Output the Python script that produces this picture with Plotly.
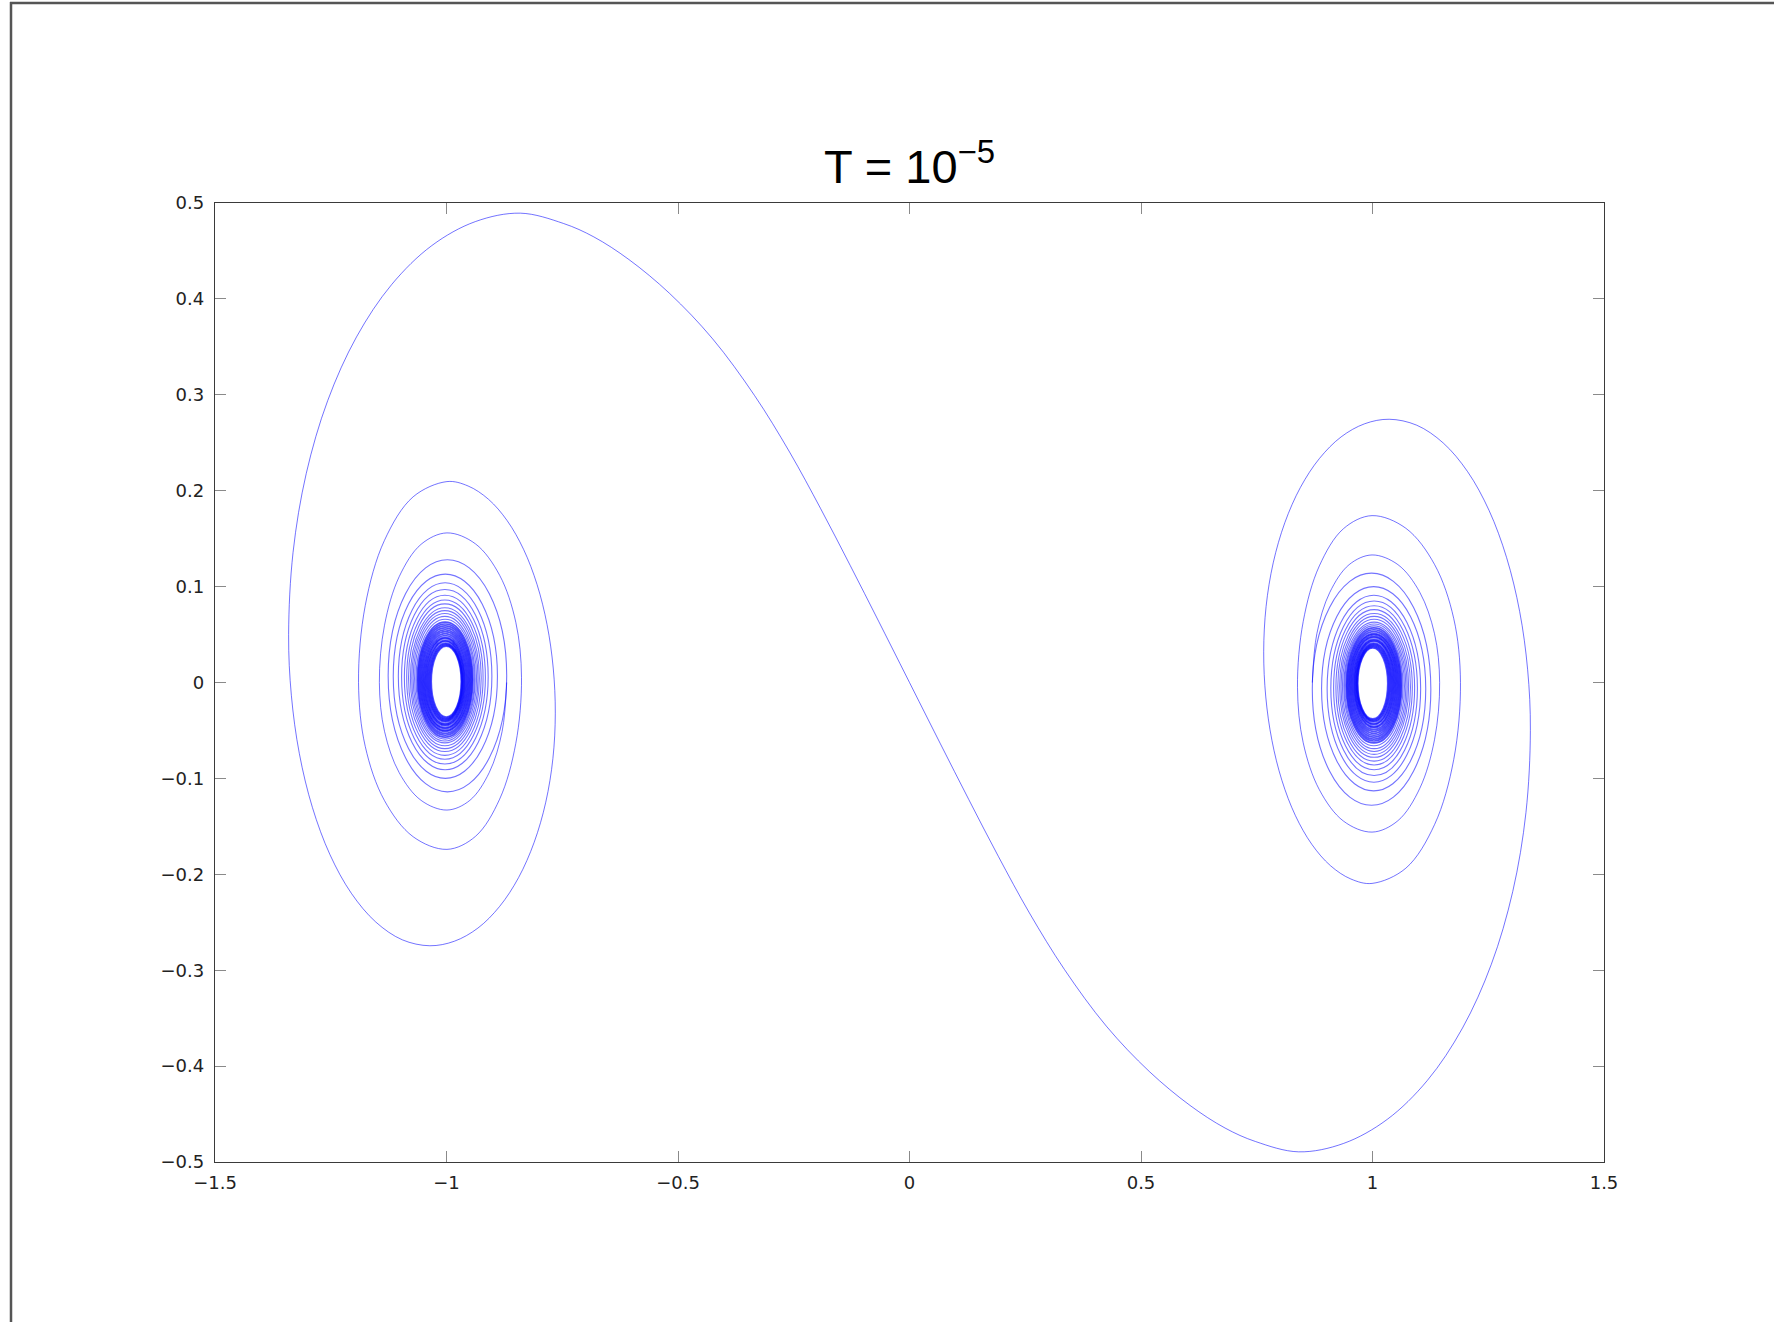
import plotly.graph_objects as go

# ---------------- data ----------------
# trajectory from the saddle (0,0) over the upper hump into the left well
traj_left_x = [0.0, -0.0660, -0.1282, -0.1918, -0.2590, -0.3347, -0.4251, -0.5179, -0.6059,
               -0.6816, -0.7476, -0.8404,
               -0.9377, -1.0317, -1.1184, -1.1943, -1.2566, -1.3029, -1.3314, -1.341,
               -1.3351, -1.3178, -1.2896, -1.2517, -1.2055, -1.1527, -1.0955, -1.036,
               -0.9831, -0.9322, -0.8854, -0.8444, -0.8107, -0.7856, -0.7702, -0.765,
               -0.7695, -0.7828, -0.8044, -0.8335, -0.8690, -0.9094, -0.9533, -0.999,
               -1.0721, -1.1341, -1.1755, -1.190,
               -1.1755, -1.1341, -1.0721, -0.999,
               -0.9373, -0.8852, -0.8503, -0.838,
               -0.8503, -0.8852, -0.9373, -0.999,
               -1.0549, -1.1022, -1.1339, -1.145,
               -1.1339, -1.1022, -1.0549, -0.999,
               -0.9496, -0.9078, -0.8798, -0.870]
traj_left_y = [0.0, 0.0632, 0.1222, 0.1812, 0.2403, 0.2993, 0.3583, 0.4056, 0.4410,
               0.4646, 0.4787, 0.4894,
               0.4806, 0.4556, 0.4150, 0.3604, 0.2939, 0.2180, 0.1357, 0.050,
               -0.0133, -0.0742, -0.1303, -0.1795, -0.2198, -0.2498, -0.2683, -0.2745,
               -0.2698, -0.2561, -0.2336, -0.2035, -0.1667, -0.1248, -0.0793, -0.032,
               0.0151, 0.0604, 0.1022, 0.1388, 0.1688, 0.1911, 0.2049, 0.2095,
               0.1936, 0.1481, 0.0802, 0.000,
               -0.0666, -0.1230, -0.1608, -0.174,
               -0.1604, -0.1216, -0.0635, 0.005,
               0.0628, 0.1118, 0.1445, 0.156,
               0.1441, 0.1103, 0.0597, 0.000,
               -0.0509, -0.0940, -0.1229, -0.133,
               -0.1229, -0.0940, -0.0509, 0.000]

# trajectory from the saddle (0,0) under the lower hump into the right well
traj_right_x = [0.0, 0.0660, 0.1282, 0.1918, 0.2590, 0.3347, 0.4251, 0.5179, 0.6059,
                0.6816, 0.7476, 0.8404,
                0.9377, 1.0317, 1.1184, 1.1943, 1.2566, 1.3029, 1.3314, 1.341,
                1.3351, 1.3178, 1.2896, 1.2517, 1.2055, 1.1527, 1.0955, 1.036,
                0.9831, 0.9322, 0.8854, 0.8444, 0.8107, 0.7856, 0.7702, 0.765,
                0.7695, 0.7828, 0.8044, 0.8335, 0.8690, 0.9094, 0.9533, 0.999,
                1.0721, 1.1341, 1.1755, 1.190,
                1.1755, 1.1341, 1.0721, 0.999,
                0.9373, 0.8852, 0.8503, 0.838,
                0.8503, 0.8852, 0.9373, 0.999,
                1.0549, 1.1022, 1.1339, 1.145,
                1.1339, 1.1022, 1.0549, 0.999,
                0.9496, 0.9078, 0.8798, 0.870]
traj_right_y = [0.0, -0.0632, -0.1222, -0.1812, -0.2403, -0.2993, -0.3583, -0.4056, -0.4410,
                -0.4646, -0.4787, -0.4894,
                -0.4806, -0.4556, -0.4150, -0.3604, -0.2939, -0.2180, -0.1357, -0.050,
                0.0133, 0.0742, 0.1303, 0.1795, 0.2198, 0.2498, 0.2683, 0.2745,
                0.2698, 0.2561, 0.2336, 0.2035, 0.1667, 0.1248, 0.0793, 0.032,
                -0.0151, -0.0604, -0.1022, -0.1388, -0.1688, -0.1911, -0.2049, -0.2095,
                -0.1936, -0.1481, -0.0802, 0.000,
                0.0666, 0.1230, 0.1608, 0.174,
                0.1604, 0.1216, 0.0635, -0.005,
                -0.0628, -0.1118, -0.1445, -0.156,
                -0.1441, -0.1103, -0.0597, 0.000,
                0.0509, 0.0940, 0.1229, 0.133,
                0.1229, 0.0940, 0.0509, 0.000]

# inner, tightly wound loops of the left well: bounding boxes
left_ring_x0 = [-1.126, -1.115, -1.104, -1.097, -1.091, -1.086, -1.082, -1.078, -1.075, -1.072,
                -1.069, -1.066, -1.063, -1.061, -1.059, -1.057, -1.055, -1.053, -1.051, -1.049,
                -1.047, -1.045, -1.043, -1.041, -1.039, -1.037, -1.035, -1.033]
left_ring_x1 = [-0.870, -0.890, -0.902, -0.910, -0.916, -0.921, -0.925, -0.929, -0.932, -0.935,
                -0.938, -0.940, -0.943, -0.945, -0.947, -0.949, -0.951, -0.953, -0.955, -0.957,
                -0.959, -0.961, -0.962, -0.964, -0.965, -0.966, -0.967, -0.968]
left_ring_y0 = [-0.114, -0.100, -0.091, -0.085, -0.080, -0.076, -0.072, -0.069, -0.066, -0.063,
                -0.061, -0.059, -0.057, -0.055, -0.053, -0.051, -0.050, -0.048, -0.047, -0.045,
                -0.044, -0.043, -0.041, -0.040, -0.039, -0.038, -0.037, -0.036]
left_ring_y1 = [0.128, 0.113, 0.104, 0.097, 0.091, 0.086, 0.082, 0.078, 0.075, 0.072,
                0.069, 0.066, 0.063, 0.061, 0.059, 0.057, 0.055, 0.053, 0.051, 0.049,
                0.047, 0.046, 0.044, 0.043, 0.041, 0.040, 0.039, 0.038]

# inner loops of the right well
right_ring_x0 = [0.870, 0.890, 0.902, 0.910, 0.916, 0.921, 0.925, 0.929, 0.932, 0.935,
                 0.938, 0.940, 0.943, 0.945, 0.947, 0.949, 0.951, 0.953, 0.955, 0.957,
                 0.959, 0.961, 0.962, 0.964, 0.965, 0.966, 0.967, 0.968]
right_ring_x1 = [1.126, 1.115, 1.104, 1.097, 1.091, 1.086, 1.082, 1.078, 1.075, 1.072,
                 1.069, 1.066, 1.063, 1.061, 1.059, 1.057, 1.055, 1.053, 1.051, 1.049,
                 1.047, 1.045, 1.043, 1.041, 1.039, 1.037, 1.035, 1.033]
right_ring_y0 = [-0.128, -0.113, -0.104, -0.097, -0.091, -0.086, -0.082, -0.078, -0.075, -0.072,
                 -0.069, -0.066, -0.063, -0.061, -0.059, -0.057, -0.055, -0.053, -0.051, -0.049,
                 -0.047, -0.046, -0.044, -0.043, -0.041, -0.040, -0.039, -0.038]
right_ring_y1 = [0.114, 0.100, 0.091, 0.085, 0.080, 0.076, 0.072, 0.069, 0.066, 0.063,
                 0.061, 0.059, 0.057, 0.055, 0.053, 0.051, 0.050, 0.048, 0.047, 0.045,
                 0.044, 0.043, 0.041, 0.040, 0.039, 0.038, 0.037, 0.036]

x_ticks = [-1.5, -1, -0.5, 0, 0.5, 1, 1.5]
x_tick_labels = ["\u22121.5", "\u22121", "\u22120.5", "0", "0.5", "1", "1.5"]
y_ticks = [-0.5, -0.4, -0.3, -0.2, -0.1, 0, 0.1, 0.2, 0.3, 0.4, 0.5]
y_tick_labels = ["\u22120.5", "\u22120.4", "\u22120.3", "\u22120.2", "\u22120.1", "0",
                 "0.1", "0.2", "0.3", "0.4", "0.5"]

title_text = "T = 10<sup>\u22125</sup>"

# ---------------- figure ----------------
LINE = "rgba(0,0,255,0.55)"
DENSE = "rgba(10,10,255,0.7)"
N_LOOSE = 12  # outer inner-loops drawn thin; the rest form the dense core

fig = go.Figure()
for xs, ys in [(traj_left_x, traj_left_y), (traj_right_x, traj_right_y)]:
    fig.add_trace(go.Scatter(x=xs, y=ys, mode="lines",
                             line=dict(color=LINE, width=1, shape="spline", smoothing=1.0),
                             hoverinfo="skip", showlegend=False))

shapes = []
for x0s, x1s, y0s, y1s in [(left_ring_x0, left_ring_x1, left_ring_y0, left_ring_y1),
                           (right_ring_x0, right_ring_x1, right_ring_y0, right_ring_y1)]:
    for i, (a, b, c, d) in enumerate(zip(x0s, x1s, y0s, y1s)):
        if i < N_LOOSE:
            ln = dict(color=LINE, width=1.1)
        else:
            ln = dict(color=DENSE, width=1.7)
        shapes.append(dict(type="circle", xref="x", yref="y", x0=a, x1=b, y0=c, y1=d,
                           line=ln, layer="above"))

# page frame (top and left edges of the original figure window)
W, H = 1774, 1322
ML, MR, MT, MB = 215, 170, 203, 160
pw, ph = W - ML - MR, H - MT - MB
def px(xp):
    return (xp - ML) / pw
def py(yp):
    return (H - MB - yp) / ph
shapes.append(dict(type="line", xref="paper", yref="paper", x0=px(10), x1=px(W), y0=py(3), y1=py(3),
                   line=dict(color="#555555", width=2.5)))
shapes.append(dict(type="line", xref="paper", yref="paper", x0=px(11), x1=px(11), y0=py(2), y1=py(H),
                   line=dict(color="#555555", width=2.5)))

axis_common = dict(showgrid=False, zeroline=False, showline=True, linecolor="#3a3a3a",
                   linewidth=1.4, mirror="ticks", ticks="inside", ticklen=11,
                   tickcolor="#8a8a8a", tickwidth=1,
                   tickfont=dict(family="DejaVu Sans, Liberation Sans, sans-serif", size=18, color="#222"))

fig.update_layout(
    width=W, height=H,
    margin=dict(l=ML, r=MR, t=MT, b=MB, pad=0),
    paper_bgcolor="white", plot_bgcolor="white",
    shapes=shapes,
    title=dict(text=title_text, x=0.5, xref="paper", xanchor="center",
               y=1, yref="paper", yanchor="bottom", pad=dict(b=20),
               font=dict(family="Liberation Sans, Arial, sans-serif", size=47, color="black")),
    xaxis=dict(range=[-1.5, 1.5], tickvals=x_ticks, ticktext=x_tick_labels,
               ticklabelstandoff=4, **axis_common),
    yaxis=dict(range=[-0.5, 0.5], tickvals=y_ticks, ticktext=y_tick_labels,
               ticklabelstandoff=6, **axis_common),
)

fig.write_html("out.html", config={"displayModeBar": False},
               post_script="document.body.style.margin='0';")
